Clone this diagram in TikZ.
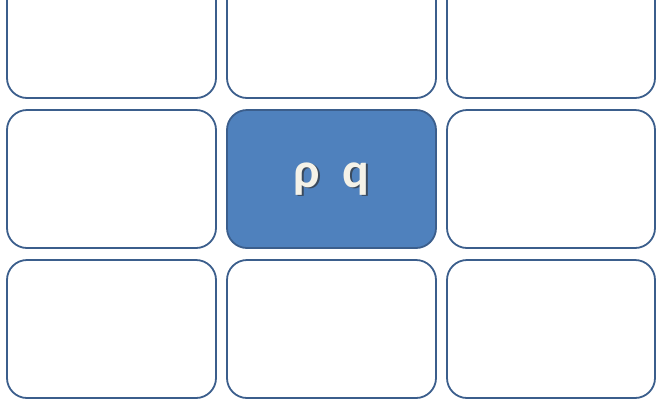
\documentclass[tikz,border=0pt]{standalone}
\usepackage{fontspec}
\setmainfont{Carlito}
\definecolor{edgeblue}{HTML}{3B5E8C}
\definecolor{fillblue}{HTML}{4F81BD}
\definecolor{textwhite}{HTML}{F4F2E8}
\definecolor{shadowgrey}{HTML}{3A4A5E}
\newcommand{\shadowtext}[1]{\rlap{\hspace{1.5pt}\raisebox{-1.5pt}{\color{shadowgrey}#1}}#1}
\begin{document}
\begin{tikzpicture}[x=1pt,y=-1pt,
  cell/.style={draw=edgeblue,line width=1.8pt,rounded corners=20pt,fill=white},
  hot/.style={cell,fill=fillblue}]
\useasboundingbox (0,0) rectangle (656,400);
\clip (0,0) rectangle (656,400);
\draw[cell] (7,-40) rectangle (216,98);
\draw[cell] (227,-40) rectangle (436,98);
\draw[cell] (447,-40) rectangle (655,98);
\draw[cell] (7,110) rectangle (216,248);
\draw[hot] (227,110) rectangle (436,248);
\draw[cell] (447,110) rectangle (655,248);
\draw[cell] (7,260) rectangle (216,398);
\draw[cell] (227,260) rectangle (436,398);
\draw[cell] (447,260) rectangle (655,398);
\node[text=textwhite,font=\bfseries\fontsize{50}{50}\selectfont,inner sep=0] (label) at (331.5,179.5) {\shadowtext{ρ\hspace{0.45em}q}};
\end{tikzpicture}
\end{document}
